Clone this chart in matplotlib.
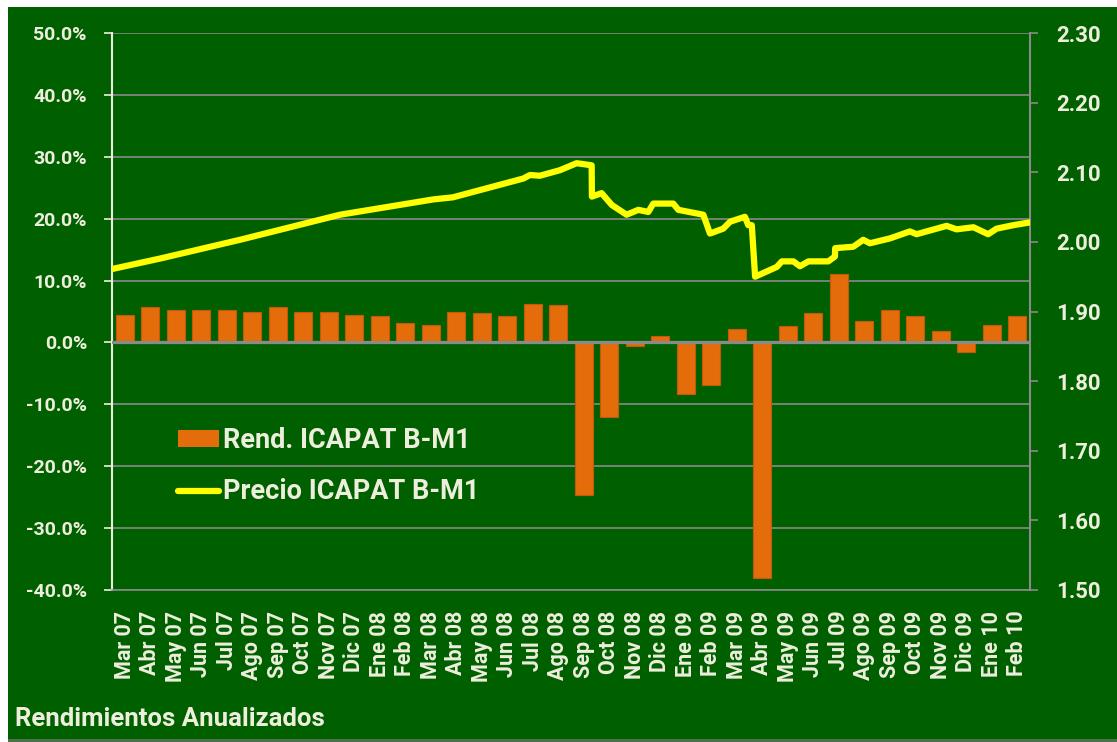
import numpy as np
import matplotlib.pyplot as plt
from matplotlib.patches import Rectangle, Patch
from matplotlib.lines import Line2D

plt.rcParams['font.family'] = ['Roboto', 'DejaVu Sans']
plt.rcParams['font.weight'] = 'bold'

meses = ['Mar 07', 'Abr 07', 'May 07', 'Jun 07', 'Jul 07', 'Ago 07', 'Sep 07', 'Oct 07',
         'Nov 07', 'Dic 07', 'Ene 08', 'Feb 08', 'Mar 08', 'Abr 08', 'May 08', 'Jun 08',
         'Jul 08', 'Ago 08', 'Sep 08', 'Oct 08', 'Nov 08', 'Dic 08', 'Ene 09', 'Feb 09',
         'Mar 09', 'Abr 09', 'May 09', 'Jun 09', 'Jul 09', 'Ago 09', 'Sep 09', 'Oct 09',
         'Nov 09', 'Dic 09', 'Ene 10', 'Feb 10']

# rendimiento anualizado mensual (%)
rend = [4.5, 5.7, 5.3, 5.3, 5.3, 5.0, 5.8, 5.0, 5.0, 4.5, 4.3, 3.1,
        2.8, 5.0, 4.8, 4.3, 6.2, 6.0, -24.7, -12.0, -0.5, 1.1, -8.3, -6.9,
        2.1, -38.0, 2.6, 4.8, 11.1, 3.5, 5.2, 4.3, 1.8, -1.5, 2.8, 4.2]

# precio (posicion en meses, valor)
precio_t = [-0.5, 1.38, 4.52, 8.44, 12.10, 12.87, 15.63, 15.89, 16.28, 17.07, 17.72,
            18.31, 18.32, 18.70, 19.10, 19.68, 20.14, 20.53, 20.73, 21.51, 21.71,
            22.69, 22.95, 23.47, 23.74, 24.32, 24.45, 24.59, 24.72, 25.57, 25.77,
            26.22, 26.48, 26.81, 27.59, 27.85, 27.86, 28.57, 28.96, 29.22, 30.01,
            30.79, 31.05, 31.84, 32.23, 32.62, 33.28, 33.86, 34.19, 34.85, 35.5]
precio_v = [1.961, 1.976, 2.003, 2.039, 2.061, 2.064, 2.091, 2.096, 2.095, 2.103, 2.113,
            2.110, 2.065, 2.070, 2.053, 2.039, 2.046, 2.043, 2.055, 2.055, 2.046,
            2.039, 2.012, 2.019, 2.029, 2.036, 2.024, 2.024, 1.950, 1.964, 1.972,
            1.972, 1.965, 1.972, 1.972, 1.979, 1.991, 1.993, 2.003, 1.998, 2.005,
            2.015, 2.011, 2.019, 2.023, 2.018, 2.021, 2.011, 2.019, 2.024, 2.028]

verde = '#006000'
crema = '#EEEEDD'
gris = '#8A8A8A'
W, H = 1117, 742

fig = plt.figure(figsize=(W / 100, H / 100), dpi=100)
fig.patch.set_facecolor('white')
fig.add_artist(Rectangle((8 / W, 0), 1 - 8 / W, 3 / H, transform=fig.transFigure,
                         facecolor='#4F6F4F', edgecolor='none', zorder=-2))
fig.add_artist(Rectangle((8 / W, 3 / H), 1 - 8 / W, (H - 10) / H, transform=fig.transFigure,
                         facecolor=verde, edgecolor='none', zorder=-1))

ax = fig.add_axes([112 / W, (H - 590) / H, (1030 - 112) / W, (590 - 33) / H])
ax.set_facecolor('none')
x = np.arange(len(meses))
ax.bar(x, rend, width=0.7, color='#E46C0A', edgecolor='#C45A08', linewidth=0.8, zorder=2)
ax.axhline(0, color=gris, linewidth=2.3, zorder=3)
ax.set_xlim(-0.5, len(meses) - 0.5)
ax.set_ylim(-40, 50)
ax.set_yticks(np.arange(-40, 51, 10))
ax.set_yticklabels(['%.1f%%' % v for v in np.arange(-40, 51, 10)])
ax.grid(axis='y', color=gris, linewidth=1.2, zorder=0)
ax.set_axisbelow(True)
ax.set_xticks(x)
ax.set_xticklabels(meses, rotation=90)
ax.tick_params(axis='x', length=0, pad=15, colors=crema, labelsize=15.5)
ax.tick_params(axis='y', length=6, width=1.2, pad=12, colors=crema, labelsize=14)
for lab in ax.get_xticklabels() + ax.get_yticklabels():
    lab.set_fontweight('bold')
ax.spines['top'].set_visible(False)
ax.spines['right'].set_visible(False)
ax.spines['left'].set_color(crema)
ax.spines['left'].set_linewidth(1.5)
ax.spines['bottom'].set_color(gris)
ax.spines['bottom'].set_linewidth(1.2)

ax2 = ax.twinx()
ax2.plot(precio_t, precio_v, color='#FFFF00', linewidth=4.5, solid_capstyle='round', zorder=4)
ax2.set_ylim(1.5, 2.3)
ax2.set_yticks(np.arange(1.5, 2.31, 0.1))
ax2.set_yticklabels(['%.2f' % v for v in np.arange(1.5, 2.31, 0.1)])
ax2.tick_params(axis='y', length=6, width=1.2, pad=13, color=gris, labelcolor=crema, labelsize=16)
for lab in ax2.get_yticklabels():
    lab.set_fontweight('bold')
for s in ['top', 'left', 'bottom']:
    ax2.spines[s].set_visible(False)
ax2.spines['right'].set_color(gris)
ax2.spines['right'].set_linewidth(1.5)

handles = [Patch(facecolor='#E46C0A', edgecolor='none'),
           Line2D([], [], color='#FFFF00', linewidth=4.5, solid_capstyle='round')]
leg = ax2.legend(handles, ['Rend. ICAPAT B-M1', 'Precio ICAPAT B-M1'],
                 loc='upper left', bbox_to_anchor=(178 / W, (H - 427) / H),
                 bbox_transform=fig.transFigure, frameon=False, borderpad=0,
                 borderaxespad=0, handlelength=1.5, handleheight=0.55,
                 handletextpad=0.15, labelspacing=0.9,
                 prop={'family': ['Roboto', 'DejaVu Sans'], 'weight': 'bold', 'size': 19.5})
for t in leg.get_texts():
    t.set_color(crema)

fig.text(15 / W, (H - 719) / H, 'Rendimientos Anualizados', color=crema,
         fontsize=18.5, fontweight='bold', va='center', ha='left')

fig.savefig('out.png', dpi=100, facecolor=fig.get_facecolor())
